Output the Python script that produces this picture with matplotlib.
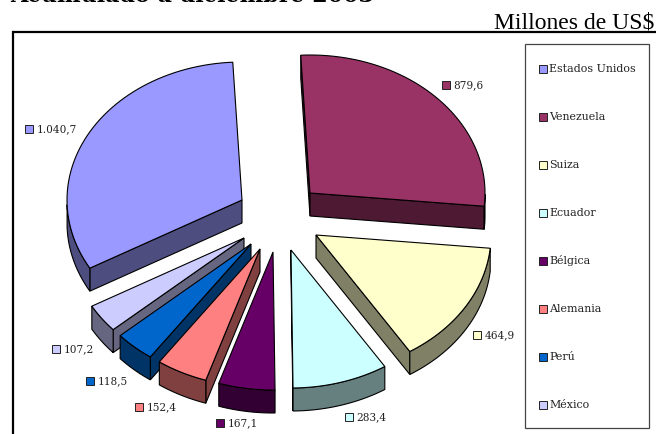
import numpy as np
import matplotlib
matplotlib.use('Agg')
import matplotlib.pyplot as plt
from matplotlib.patches import Polygon, Rectangle

paises = ['Estados Unidos', 'Venezuela', 'Suiza', 'Ecuador', 'Bélgica', 'Alemania', 'Perú', 'México']
valores = [1040.7, 879.6, 464.9, 283.4, 167.1, 152.4, 118.5, 107.2]
etiquetas = ['1.040,7', '879,6', '464,9', '283,4', '167,1', '152,4', '118,5', '107,2']

colores = ['#9999FF', '#993366', '#FFFFCC', '#CCFFFF', '#660066', '#FF8080', '#0066CC', '#CCCCFF']
laterales = ['#4D4D80', '#4D1933', '#808066', '#668080', '#330033', '#804040', '#003366', '#666680']

# apex of each exploded slice, and where its value label sits (pixels)
APICES = [(242, 200), (310, 193), (316, 235), (291, 250), (273, 252), (260, 249), (251, 244), (244, 238)]
POS_ETIQ = [(29, 130), (446, 86), (477, 336), (349, 418), (220, 424), (139, 408), (90, 382), (56, 350)]
ORDEN = [0, 1, 2, 7, 6, 5, 4, 3]

RX, RY = 175, 138   # ellipse radii of the tilted pie
DEPTH = 23
INICIO = -119.6     # clockwise from 12 o'clock, degrees

SERIF = 'DejaVu Serif'

fig = plt.figure(figsize=(6.56, 4.34), dpi=100)
ax = fig.add_axes([0, 0, 1, 1])
ax.set_xlim(0, 656)
ax.set_ylim(434, 0)
ax.axis('off')


def arco(cx, cy, a0, a1, n=60):
    t = np.radians(np.linspace(a0, a1, n))
    return np.column_stack([cx + RX * np.sin(t), cy - RY * np.cos(t)])


def cara(pts, color, z):
    # extrude a run of top-edge points downwards
    pts = np.asarray(pts)
    bajo = pts[::-1] + [0, DEPTH]
    ax.add_patch(Polygon(np.vstack([pts, bajo]), closed=True, fc=color, ec='black', lw=0.8, zorder=z))


def porcion(i, a0, a1, z):
    cx, cy = APICES[i]
    borde = arco(cx, cy, a0, a1)
    apex = np.array([cx, cy])
    # only the faces turned towards the viewer
    if borde[0][0] < cx:
        cara([apex, borde[0]], laterales[i], z)
    if borde[-1][0] > cx:
        cara([borde[-1], apex], laterales[i], z)
    visible = (np.mod(np.linspace(a0, a1, 60), 360) > 90) & (np.mod(np.linspace(a0, a1, 60), 360) < 270)
    if visible.any():
        cara(borde[visible], laterales[i], z)
    ax.add_patch(Polygon(np.vstack([apex, borde]), closed=True, fc=colores[i], ec='black', lw=0.8, zorder=z + 0.5))


fracc = np.array(valores) / sum(valores) * 360
limites = INICIO + np.concatenate([[0], np.cumsum(fracc)])
for z, i in enumerate(ORDEN):
    porcion(i, limites[i], limites[i + 1], z + 2)


def cuadrito(x, y, color):
    ax.add_patch(Rectangle((x, y - 4), 8, 8, fc=color, ec='#222222', lw=0.7, zorder=20))


for i, (x, y) in enumerate(POS_ETIQ):
    cuadrito(x - 4, y - 1, colores[i])
    ax.text(x + 7.5, y - 1, etiquetas[i], family=SERIF, fontsize=7.6, color='#222222', va='center', ha='left', zorder=20)

# frame and legend
ax.plot([13, 13], [434, 32], color='black', lw=1.6, zorder=1, solid_capstyle='projecting')
ax.plot([13, 656], [32, 32], color='black', lw=1.6, zorder=1, solid_capstyle='butt')
ax.add_patch(Rectangle((524.5, 43.5), 124.5, 384.5, fc='white', ec='#444444', lw=0.9, zorder=1))
for i, p in enumerate(paises):
    y = 68.5 + i * 48
    cuadrito(538.5, y, colores[i])
    ax.text(549, y, p, family=SERIF, fontsize=7.9, color='#222222', va='center', ha='left', zorder=20)

ax.text(654, 29, 'Millones de US$', family='Liberation Serif', fontsize=17, color='black', ha='right', va='baseline')
ax.text(10, 2, 'Acumulado a diciembre 2003', family=SERIF, fontsize=16, fontweight='bold', color='black', ha='left', va='baseline')

fig.savefig('out.png', dpi=100, facecolor='white')
